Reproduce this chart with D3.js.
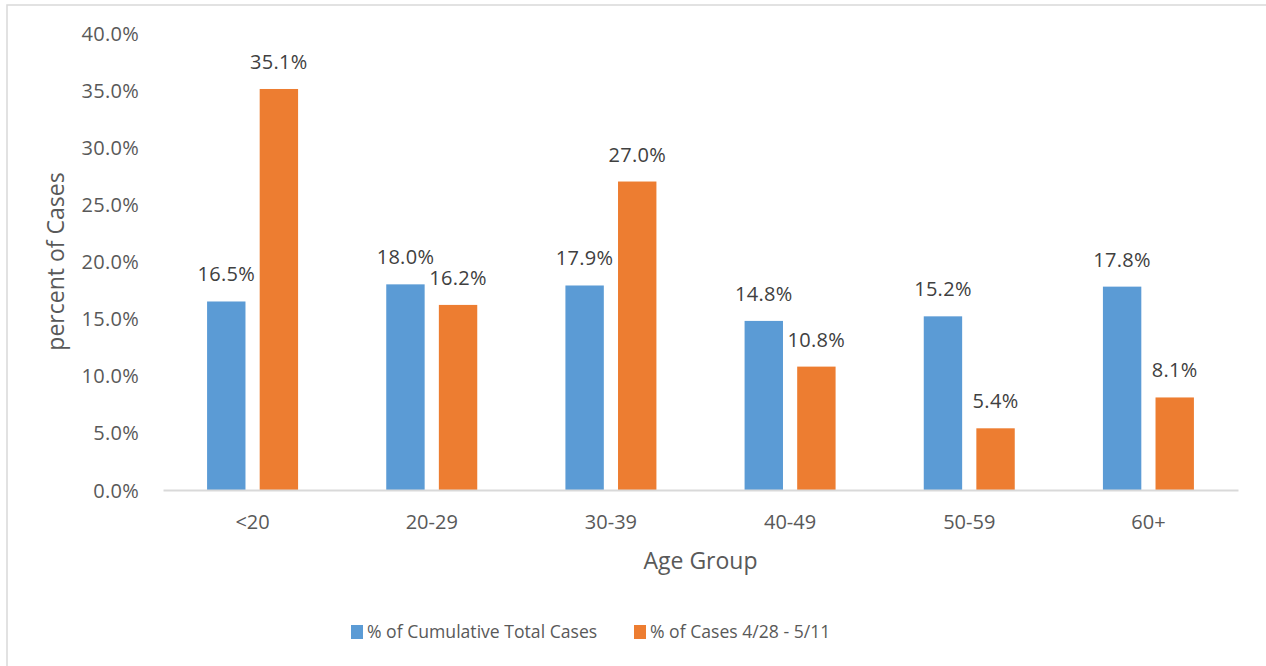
<!DOCTYPE html>
<html>
<head>
<meta charset="utf-8">
<script src="https://cdn.jsdelivr.net/npm/d3@7"></script>
<style>
  html, body { margin: 0; padding: 0; background: #fff; }
  svg { display: block; font-family: "Open Sans", sans-serif; }
</style>
</head>
<body>
<svg id="chart" width="1266" height="666"></svg>
<script>
const categories = ["<20", "20-29", "30-39", "40-49", "50-59", "60+"];
const seriesNames = ["% of Cumulative Total Cases", "% of Cases 4/28 - 5/11"];
const cumulativeShare = [16.5, 18.0, 17.9, 14.8, 15.2, 17.8];
const recentShare = [35.1, 16.2, 27.0, 10.8, 5.4, 8.1];
const yTicks = [0, 5, 10, 15, 20, 25, 30, 35, 40];
const colors = ["#5B9BD5", "#ED7D31"];

const svg = d3.select("#chart");
const textColor = "#595959";
const numFont = 20;

// outer frame
svg.append("rect")
  .attr("x", 7).attr("y", 5).attr("width", 1300).attr("height", 700)
  .attr("fill", "none").attr("stroke", "#D9D9D9").attr("stroke-width", 1.5);

const plot = { left: 163, right: 1238, top: 33, bottom: 490 };

const x = d3.scaleBand().domain(categories).range([plot.left, plot.right]);
const groupWidth = 91;
const x1 = d3.scaleBand().domain([0, 1]).range([0, groupWidth]).paddingInner(0.27);
const y = d3.scaleLinear().domain([0, 40]).range([plot.bottom, plot.top]);

const series = [cumulativeShare, recentShare];
const barX = (i, si) => x(categories[i]) + x.bandwidth() / 2 - groupWidth / 2 + x1(si);

// bars and value labels
series.forEach((vals, si) => {
  svg.append("g").selectAll("rect")
    .data(vals)
    .join("rect")
    .attr("x", (d, i) => barX(i, si))
    .attr("width", x1.bandwidth())
    .attr("y", d => y(d))
    .attr("height", d => y(0) - y(d))
    .attr("fill", colors[si]);

  svg.append("g").selectAll("text")
    .data(vals)
    .join("text")
    .attr("x", (d, i) => barX(i, si) + x1.bandwidth() / 2)
    .attr("y", d => y(d) - 20)
    .attr("text-anchor", "middle")
    .attr("font-size", numFont)
    .attr("letter-spacing", 0.3)
    .attr("fill", "#404040")
    .text(d => d.toFixed(1) + "%");
});

// y axis (labels only)
const yAxis = d3.axisLeft(y).tickValues(yTicks).tickSize(0).tickPadding(0)
  .tickFormat(d => d.toFixed(1) + "%");
const yg = svg.append("g").attr("transform", `translate(139,0)`).call(yAxis);
yg.select(".domain").remove();
yg.selectAll("text").attr("font-size", numFont).attr("fill", textColor)
  .attr("letter-spacing", 0.3)
  .attr("font-family", "Open Sans, sans-serif").attr("dy", "0.35em");

// x axis
const xAxis = d3.axisBottom(x).tickSize(0).tickPadding(25);
const xg = svg.append("g").attr("transform", `translate(0,${plot.bottom})`).call(xAxis);
xg.select(".domain").attr("stroke", "#D9D9D9").attr("stroke-width", 2);
xg.selectAll("text").attr("font-size", numFont).attr("fill", textColor)
  .attr("font-family", "Open Sans, sans-serif");

// axis titles
svg.append("text")
  .attr("transform", `translate(56,${(plot.top + plot.bottom) / 2}) rotate(-90)`)
  .attr("text-anchor", "middle").attr("dy", "0.35em")
  .attr("font-size", 23).attr("fill", textColor)
  .text("percent of Cases");

svg.append("text")
  .attr("x", (plot.left + plot.right) / 2).attr("y", 561)
  .attr("text-anchor", "middle").attr("dy", "0.35em")
  .attr("font-size", 23).attr("fill", textColor)
  .text("Age Group");

// legend
const legendX = [351, 634];
seriesNames.forEach((name, i) => {
  svg.append("rect")
    .attr("x", legendX[i]).attr("y", 625).attr("width", 12).attr("height", 14)
    .attr("fill", colors[i]);
  svg.append("text")
    .attr("x", legendX[i] + 16).attr("y", 632).attr("dy", "0.35em")
    .attr("font-size", 17.6).attr("fill", textColor)
    .text(name);
});
</script>
</body>
</html>
